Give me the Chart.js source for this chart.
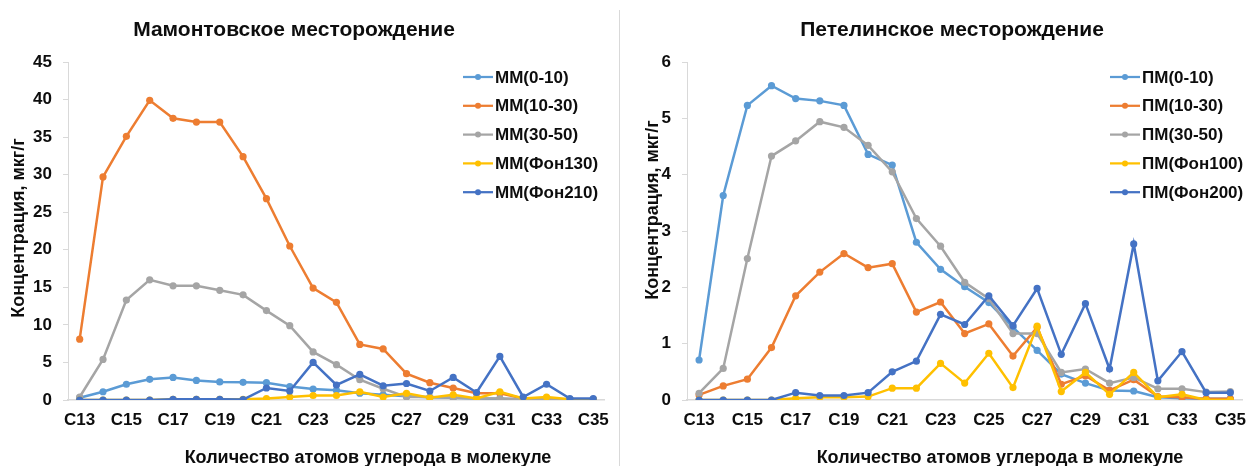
<!DOCTYPE html>
<html lang="ru">
<head>
<meta charset="utf-8">
<title>Концентрация н-алканов</title>
<script src="https://cdn.jsdelivr.net/npm/chart.js@4/dist/chart.umd.min.js"></script>
<style>
  html, body { margin: 0; padding: 0; background: #ffffff; }
  #wrap { position: relative; width: 1256px; height: 466px; overflow: hidden; }
  .panel { position: absolute; top: 0; }
  #sep { position: absolute; left: 619px; top: 10px; width: 1px; height: 456px; background: #d9d9d9; }
</style>
</head>
<body>
<div id="wrap">
  <div class="panel" style="left:0;"><canvas id="mm" width="619" height="466"></canvas></div>
  <div id="sep"></div>
  <div class="panel" style="left:620px;"><canvas id="pm" width="636" height="466"></canvas></div>
</div>
<script>
// Число атомов углерода в молекуле
const categories = ['C13','C14','C15','C16','C17','C18','C19','C20','C21','C22','C23','C24',
                    'C25','C26','C27','C28','C29','C30','C31','C32','C33','C34','C35'];

// Мамонтовское месторождение, мкг/г
const mmLabels = ['ММ(0-10)', 'ММ(10-30)', 'ММ(30-50)', 'ММ(Фон130)', 'ММ(Фон210)'];
const mm0_10   = [0.3, 1.1, 2.1, 2.75, 3.0, 2.6, 2.4, 2.35, 2.3, 1.8, 1.45, 1.3, 0.9, 0.7, 0.5, 0.35, 0.3, 0.2, 0.15, 0.1, 0.1, 0.05, 0.05];
const mm10_30  = [8.1, 29.7, 35.1, 39.9, 37.5, 37.0, 37.0, 32.4, 26.8, 20.5, 14.9, 13.0, 7.4, 6.8, 3.5, 2.3, 1.6, 0.9, 0.9, 0.2, 0.1, 0.05, 0.0];
const mm30_50  = [0.4, 5.4, 13.3, 16.0, 15.2, 15.2, 14.6, 14.0, 11.9, 9.9, 6.4, 4.7, 2.7, 1.5, 0.4, 0.4, 0.3, 0.2, 0.2, 0.1, 0.1, 0.05, 0.05];
const mmF130   = [0.0, 0.0, 0.0, 0.0, 0.1, 0.1, 0.1, 0.1, 0.2, 0.4, 0.6, 0.6, 1.1, 0.4, 0.9, 0.3, 0.7, 0.2, 1.1, 0.2, 0.4, 0.1, 0.1];
const mmF210   = [0.0, 0.0, 0.0, 0.0, 0.1, 0.1, 0.1, 0.05, 1.6, 1.2, 5.0, 2.0, 3.4, 1.9, 2.2, 1.2, 3.0, 1.0, 5.8, 0.4, 2.1, 0.2, 0.2];
const mmTicks  = { max: 45, step: 5 };

// Петелинское месторождение, мкг/г
const pmLabels = ['ПМ(0-10)', 'ПМ(10-30)', 'ПМ(30-50)', 'ПМ(Фон100)', 'ПМ(Фон200)'];
const pm0_10   = [0.71, 3.63, 5.23, 5.58, 5.35, 5.31, 5.23, 4.36, 4.17, 2.80, 2.32, 2.01, 1.73, 1.29, 0.88, 0.46, 0.30, 0.17, 0.16, 0.05, 0.03, 0.02, 0.02];
const pm10_30  = [0.09, 0.25, 0.37, 0.93, 1.85, 2.27, 2.60, 2.35, 2.42, 1.56, 1.74, 1.18, 1.35, 0.78, 1.29, 0.28, 0.43, 0.17, 0.36, 0.06, 0.05, 0.02, 0.02];
const pm30_50  = [0.12, 0.56, 2.51, 4.33, 4.60, 4.94, 4.84, 4.52, 4.05, 3.22, 2.73, 2.09, 1.80, 1.18, 1.18, 0.49, 0.55, 0.30, 0.40, 0.20, 0.20, 0.14, 0.15];
const pmF100   = [0.0, 0.0, 0.0, 0.0, 0.03, 0.05, 0.05, 0.06, 0.21, 0.21, 0.65, 0.30, 0.83, 0.22, 1.31, 0.15, 0.49, 0.10, 0.49, 0.05, 0.10, 0.0, 0.0];
const pmF200   = [0.0, 0.0, 0.0, 0.0, 0.13, 0.08, 0.08, 0.13, 0.50, 0.69, 1.52, 1.34, 1.85, 1.32, 1.98, 0.81, 1.71, 0.55, 2.77, 0.34, 0.86, 0.13, 0.13];
const pmTicks  = { max: 6, step: 1 };

const seriesColors = ['#5b9bd5', '#ed7d31', '#a5a5a5', '#ffc000', '#4472c4'];
const FONT = '"Liberation Sans", Arial, sans-serif';
const TEXT = '#0d0d0d';
const AXIS = '#d9d9d9';

// Заголовки, подписи осей и легенда
const panelText = {
  id: 'panelText',
  afterDraw(chart, args, o) {
    const ctx = chart.ctx;
    ctx.save();
    ctx.fillStyle = TEXT;
    ctx.textAlign = 'center';
    ctx.textBaseline = 'middle';
    ctx.font = `bold ${o.titleSize}px ${FONT}`;
    ctx.fillText(o.title, o.titleX, o.titleY);
    ctx.font = `bold ${o.axisSize}px ${FONT}`;
    ctx.fillText(o.xTitle, o.xTitleX, o.xTitleY);
    ctx.save();
    ctx.translate(o.yTitleX, o.yTitleY);
    ctx.rotate(-Math.PI / 2);
    ctx.fillText(o.yTitle, 0, 0);
    ctx.restore();

    ctx.font = `bold ${o.legendSize}px ${FONT}`;
    ctx.textAlign = 'left';
    chart.data.datasets.forEach((ds, i) => {
      const y = o.legendY + i * o.legendGap;
      ctx.strokeStyle = ds.borderColor;
      ctx.lineWidth = 2.25;
      ctx.beginPath();
      ctx.moveTo(o.legendX, y);
      ctx.lineTo(o.legendX + 30, y);
      ctx.stroke();
      ctx.fillStyle = ds.borderColor;
      ctx.beginPath();
      ctx.arc(o.legendX + 15, y, 3, 0, Math.PI * 2);
      ctx.fill();
      ctx.fillStyle = TEXT;
      ctx.fillText(ds.label, o.legendX + 32, y + 1);
    });
    ctx.restore();
  }
};

function makeChart(id, labels, series, ticks, rightPad, yWidth, text) {
  const datasets = series.map((values, i) => ({
    label: labels[i],
    data: values,
    borderColor: seriesColors[i],
    backgroundColor: seriesColors[i],
    borderWidth: 2.5,
    pointRadius: 3.6,
    pointHoverRadius: 3.6,
    pointBorderWidth: 0,
    tension: 0,
    order: series.length - i
  }));
  return new Chart(document.getElementById(id), {
    type: 'line',
    data: { labels: categories, datasets },
    options: {
      responsive: false,
      animation: false,
      devicePixelRatio: 1,
      layout: { padding: { top: 62, right: rightPad, left: 0, bottom: 0 } },
      plugins: { legend: { display: false }, tooltip: { enabled: false }, panelText: text },
      scales: {
        x: {
          offset: true,
          grid: { display: true, drawOnChartArea: false, drawTicks: false, color: AXIS },
          border: { display: true, color: AXIS, width: 1.5 },
          ticks: {
            autoSkip: false, maxRotation: 0, padding: 10, color: TEXT,
            font: { family: FONT, size: 17, weight: 'bold' },
            callback(v, i) { return i % 2 === 0 ? this.getLabelForValue(v) : ''; }
          },
          afterFit(scale) { scale.height = 66; }
        },
        y: {
          min: 0, max: ticks.max,
          grid: { display: true, drawOnChartArea: false, drawTicks: true, tickLength: 5, color: AXIS },
          border: { display: true, color: AXIS, width: 1 },
          ticks: {
            stepSize: ticks.step, padding: 11, color: TEXT,
            font: { family: FONT, size: 17, weight: 'bold' }
          },
          afterFit(scale) { scale.width = yWidth; }
        }
      }
    },
    plugins: [panelText]
  });
}

makeChart('mm', mmLabels, [mm0_10, mm10_30, mm30_50, mmF130, mmF210], mmTicks, 8, 68, {
  title: 'Мамонтовское месторождение', titleX: 294, titleY: 30, titleSize: 21,
  xTitle: 'Количество атомов углерода в молекуле', xTitleX: 368, xTitleY: 458,
  yTitle: 'Концентрация, мкг/г', yTitleX: 19, yTitleY: 228, axisSize: 18,
  legendX: 463, legendY: 77, legendGap: 28.8, legendSize: 17
});

makeChart('pm', pmLabels, [pm0_10, pm10_30, pm30_50, pmF100, pmF200], pmTicks, 5, 67, {
  title: 'Петелинское месторождение', titleX: 332, titleY: 30, titleSize: 21,
  xTitle: 'Количество атомов углерода в молекуле', xTitleX: 380, xTitleY: 458,
  yTitle: 'Концентрация, мкг/г', yTitleX: 33, yTitleY: 210, axisSize: 18,
  legendX: 490, legendY: 77, legendGap: 28.8, legendSize: 17
});
</script>
</body>
</html>
